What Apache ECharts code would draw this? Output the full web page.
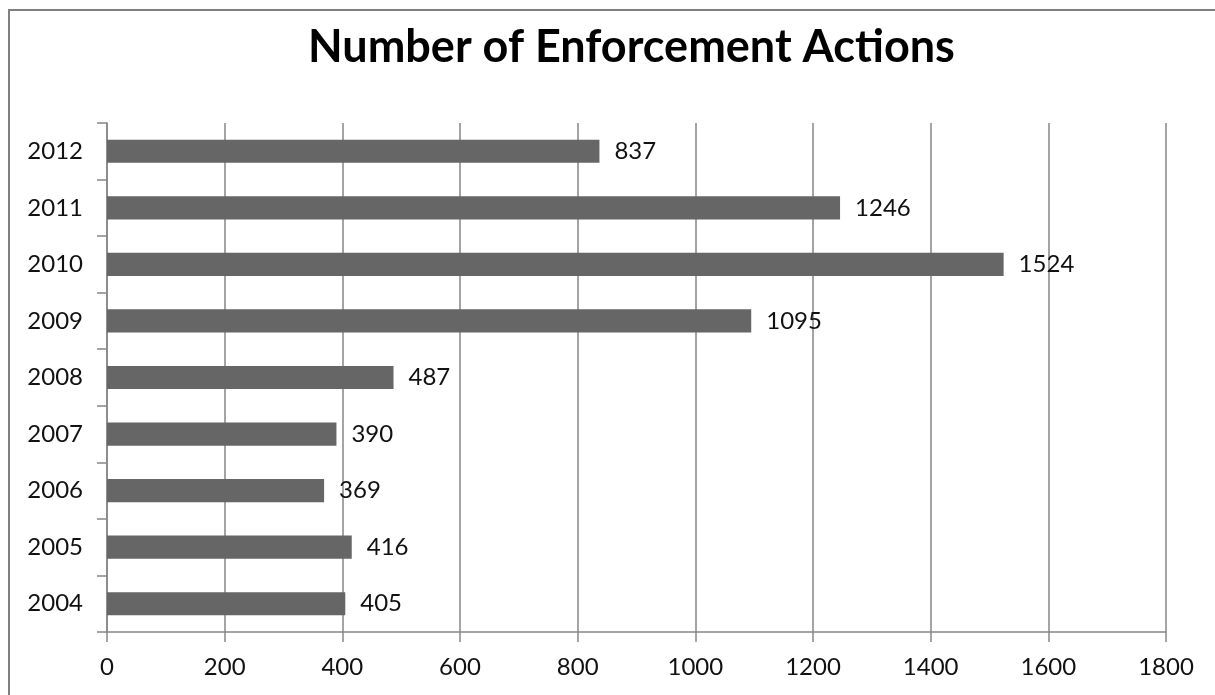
<!DOCTYPE html>
<html>
<head>
<meta charset="utf-8">
<script src="https://cdn.jsdelivr.net/npm/echarts@6/dist/echarts.min.js"></script>
<style>html,body{margin:0;padding:0;background:#fff;overflow:hidden;}#c{width:1215px;height:695px;}</style>
</head>
<body>
<div id="c"></div>
<script>
const titleText = 'Number of Enforcement Actions';
const years = ['2004','2005','2006','2007','2008','2009','2010','2011','2012'];
const actions = [405, 416, 369, 390, 487, 1095, 1524, 1246, 837];
const xMin = 0, xMax = 1800, xStep = 200;

const chart = echarts.init(document.getElementById('c'));
const font = 'Lato, "Open Sans", sans-serif';
chart.setOption({
  animation: false,
  backgroundColor: '#fff',
  graphic: [{
    type: 'polyline', z: -1,
    shape: { points: [[9, 720], [9, 10], [1240, 10]] },
    style: { fill: null, stroke: '#808080', lineWidth: 2 }
  }],
  title: {
    text: titleText, left: 303, top: 20,
    textStyle: { fontFamily: font, fontWeight: 'bold', fontSize: 45, color: '#000' }
  },
  grid: { left: 107, right: 49, top: 123, bottom: 63, containLabel: false },
  xAxis: {
    type: 'value', min: xMin, max: xMax, interval: xStep,
    axisLine: { show: true, lineStyle: { color: '#868686', width: 1.5 } },
    axisTick: { show: true, length: 10, lineStyle: { color: '#868686', width: 1.5 } },
    axisLabel: { fontFamily: font, fontSize: 24, color: '#111', margin: 23, formatter: v => String(v) },
    splitLine: { show: true, lineStyle: { color: '#868686', width: 1.5 } }
  },
  yAxis: {
    type: 'category', data: years,
    axisLine: { show: true, lineStyle: { color: '#868686', width: 1.5 } },
    axisTick: { show: true, length: 10, alignWithLabel: false, lineStyle: { color: '#868686', width: 1.5 } },
    axisLabel: { fontFamily: font, fontSize: 24, color: '#111', margin: 24 },
    splitLine: { show: false }
  },
  series: [{
    type: 'bar', data: actions, barWidth: '41%',
    itemStyle: { color: '#666666' },
    label: { show: true, position: 'right', distance: 15, fontFamily: font, fontSize: 24, color: '#111' }
  }]
});
</script>
</body>
</html>
